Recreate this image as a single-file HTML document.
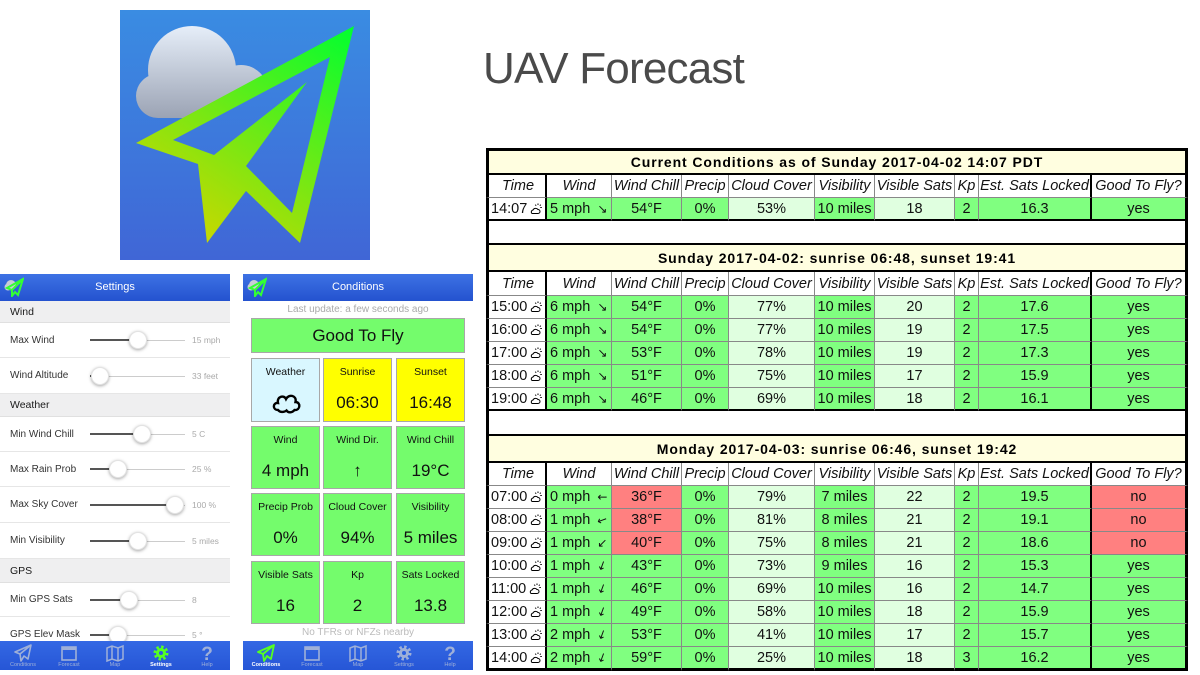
<!DOCTYPE html>
<html><head><meta charset="utf-8"><style>
*{margin:0;padding:0;box-sizing:border-box}
body{width:1200px;height:675px;background:#fff;position:relative;overflow:hidden;font-family:"Liberation Sans",Arial,sans-serif}
.abs{position:absolute}
.ttl{position:absolute;left:483px;top:47px;font-size:44px;line-height:44px;color:#4a4a4a;letter-spacing:-0.8px;white-space:nowrap}
/* table */
.tbl{position:absolute;left:486px;top:148px;width:702px;display:grid;
grid-template-columns:61px 65px 70px 47px 86px 60px 80px 24px 113px 96px;
grid-template-rows:27px 23px 23px 24px 27px 24px 23px 23px 23px 23px 23px 25px 27px 23px 23px 23px 23px 23px 23px 23px 23px 24px}
.tbl>div{border-right:1px solid #888;border-bottom:1px solid #888;display:flex;align-items:center;justify-content:center;font-size:14.5px;white-space:nowrap;overflow:hidden;color:#111}
.tbl>div.c1{border-left:3px solid #000;border-right:2px solid #000;justify-content:flex-start;padding-left:2px;background:#fff}
.tbl>div.c9{border-right:2px solid #000}
.tbl>div.c10{border-right:3px solid #000}
.tbl>div.t{grid-column:1/-1;border-left:3px solid #000;border-right:3px solid #000;border-bottom:2px solid #000;background:#fffee0;font-weight:bold;font-size:14px;letter-spacing:.9px;color:#000}
.tbl>div.t1{border-top:3px solid #000}
.tbl>div.b{grid-column:1/-1;border-left:3px solid #000;border-right:3px solid #000;border-bottom:2px solid #000;background:#fff}
.tbl>div.h{font-style:italic;background:#fff}
.tbl>div.lb{border-bottom:2px solid #000}
.tbl>div.fb{border-bottom:3px solid #000}
.g{background:#80ff80}.l{background:#e0ffe0}.r{background:#ff8080}
.tbl>div.w{justify-content:flex-start;padding-left:3px}
.a{font-style:normal;margin-left:7px;font-size:12px;display:inline-block;font-family:"DejaVu Sans",sans-serif}
.ic{margin-left:3px;flex:none}
/* phones */
.hdr{position:absolute;height:27px;background:linear-gradient(#3d72e4,#2452cf);color:#fff;font-size:11px;text-align:center;line-height:27px}
.sec{position:absolute;left:0;width:230px;background:#efeff0;font-size:10.5px;color:#1a1a1a;padding-left:10px;border-bottom:1px solid #e0e0e0}
.row{position:absolute;left:0;width:230px;border-bottom:1px solid #e6e6e6;font-size:10px;color:#333;padding-left:10px;background:#fff}
.sl{position:absolute;left:90px;height:2px;background:#555}
.sr{position:absolute;height:1px;background:#ccc}
.kn{position:absolute;width:18px;height:18px;border-radius:50%;background:#fff;box-shadow:0 1px 3px rgba(0,0,0,.35);border:1px solid #e3e3e3}
.v{position:absolute;left:192px;font-size:8.5px;color:#aaa}
.tab{position:absolute;top:641px;width:230px;height:29px;background:linear-gradient(#3468e4,#2656d6)}
.ti{position:absolute;top:0;width:46px;height:29px;text-align:center}
.ti svg{position:absolute;left:13px;top:3px}
.ti span{position:absolute;left:0;right:0;top:21px;font-size:5.5px;color:#9fb0d8;line-height:7px}
.ti span.on{color:#fff;font-weight:bold}
.bx{position:absolute;border:1px solid #a8a8a8;text-align:center;color:#111}
.bx .lb{position:absolute;top:6px;left:0;right:0;font-size:10.5px;line-height:14px}
.bx .vl{position:absolute;top:34px;left:0;right:0;font-size:17px;line-height:20px}
.gr{background:#74fc6c}.ye{background:#ffff00}.cy{background:#d9f7ff}
</style></head><body>

<!-- App icon -->
<svg class="abs" style="left:120px;top:10px" width="250" height="250" viewBox="120 10 250 250">
<defs>
<linearGradient id="bg" gradientUnits="userSpaceOnUse" x1="0" y1="10" x2="0" y2="260"><stop offset="0" stop-color="#3a8ce2"/><stop offset="1" stop-color="#4066d6"/></linearGradient>
<linearGradient id="cl" gradientUnits="userSpaceOnUse" x1="0" y1="26" x2="0" y2="118"><stop offset="0" stop-color="#e6eef9"/><stop offset="1" stop-color="#9ba3b4"/></linearGradient>
<linearGradient id="pl" gradientUnits="userSpaceOnUse" x1="354" y1="26" x2="207" y2="243"><stop offset="0" stop-color="#00ff30"/><stop offset="1" stop-color="#c8d800"/></linearGradient>
</defs>
<rect x="120" y="10" width="250" height="250" fill="url(#bg)"/>
<g fill="url(#cl)">
<circle cx="192" cy="70" r="44"/>
<circle cx="158" cy="96" r="22"/>
<circle cx="241" cy="92" r="27"/>
<rect x="158" y="80" width="83" height="38"/>
</g>
<path d="M354 26 L136 143 L198 164 L207 243 L246 191 L300 243 Z" fill="url(#pl)"/>
<path d="M330 57 L173 140 L214 155 L307 82 L246 166 L292 213 Z" fill="url(#bg)"/>
</svg>

<div class="ttl">UAV Forecast</div>

<!-- Settings phone -->
<div class="hdr" style="left:0;top:274px;width:230px">Settings</div>
<svg class="abs" style="left:4px;top:277px" width="20" height="20"><circle cx="7" cy="8" r="5" fill="#c8ccd6"/><circle cx="4" cy="10" r="3.5" fill="#c8ccd6"/><path d="M19 2 L3 11 L8 13 L8 19 L11 15 L14 18 Z M19 2 L8 13" fill="none" stroke="#3f3" stroke-width="2"/></svg>

<div class="sec" style="top:301px;height:22px;line-height:22px">Wind</div>
<div class="row" style="top:323px;height:35px;line-height:35px">Max Wind
 <div class="sl" style="top:16px;width:48px"></div><div class="sr" style="top:17px;left:138px;width:47px"></div><div class="kn" style="left:129px;top:8px"></div><div class="v" style="top:0">15 mph</div></div>
<div class="row" style="top:358px;height:36px;line-height:36px">Wind Altitude
 <div class="sl" style="top:17px;width:10px"></div><div class="sr" style="top:18px;left:100px;width:85px"></div><div class="kn" style="left:91px;top:9px"></div><div class="v" style="top:0">33 feet</div></div>
<div class="sec" style="top:394px;height:23px;line-height:23px">Weather</div>
<div class="row" style="top:417px;height:35px;line-height:35px">Min Wind Chill
 <div class="sl" style="top:16px;width:52px"></div><div class="sr" style="top:17px;left:142px;width:43px"></div><div class="kn" style="left:133px;top:8px"></div><div class="v" style="top:0">5 C</div></div>
<div class="row" style="top:452px;height:35px;line-height:35px">Max Rain Prob
 <div class="sl" style="top:16px;width:28px"></div><div class="sr" style="top:17px;left:118px;width:67px"></div><div class="kn" style="left:109px;top:8px"></div><div class="v" style="top:0">25 %</div></div>
<div class="row" style="top:487px;height:36px;line-height:36px">Max Sky Cover
 <div class="sl" style="top:17px;width:85px"></div><div class="sr" style="top:18px;left:175px;width:10px"></div><div class="kn" style="left:166px;top:9px"></div><div class="v" style="top:0">100 %</div></div>
<div class="row" style="top:523px;height:36px;line-height:36px">Min Visibility
 <div class="sl" style="top:17px;width:48px"></div><div class="sr" style="top:18px;left:138px;width:47px"></div><div class="kn" style="left:129px;top:9px"></div><div class="v" style="top:0">5 miles</div></div>
<div class="sec" style="top:559px;height:24px;line-height:24px">GPS</div>
<div class="row" style="top:583px;height:34px;line-height:34px">Min GPS Sats
 <div class="sl" style="top:16px;width:39px"></div><div class="sr" style="top:17px;left:129px;width:56px"></div><div class="kn" style="left:120px;top:8px"></div><div class="v" style="top:0">8</div></div>
<div class="row" style="top:617px;height:36px;line-height:36px">GPS Elev Mask
 <div class="sl" style="top:17px;width:28px"></div><div class="sr" style="top:18px;left:118px;width:67px"></div><div class="kn" style="left:109px;top:9px"></div><div class="v" style="top:0">5 °</div></div>

<div class="tab" style="left:0">
 <div class="ti" style="left:0"><svg width="20" height="18"><path d="M18 1 L2 8 L7 10 L8 17 L11 12 L15 15 Z M7 10 L18 1" fill="none" stroke="#9fb0d8" stroke-width="1.6" stroke-linejoin="round"/></svg><span>Conditions</span></div>
 <div class="ti" style="left:46px"><svg width="20" height="18"><rect x="3" y="3" width="14" height="13" fill="none" stroke="#9fb0d8" stroke-width="1.6"/><rect x="3" y="3" width="14" height="3" fill="#9fb0d8"/></svg><span>Forecast</span></div>
 <div class="ti" style="left:92px"><svg width="20" height="18"><path d="M2 4 L7 2 L13 4 L18 2 V15 L13 17 L7 15 L2 17 Z M7 2 V15 M13 4 V17" fill="none" stroke="#9fb0d8" stroke-width="1.5"/></svg><span>Map</span></div>
 <div class="ti" style="left:138px"><svg width="20" height="18"><circle cx="10" cy="9" r="6" fill="none" stroke="#55ff22" stroke-width="3" stroke-dasharray="2.4 2.3"/><circle cx="10" cy="9" r="5" fill="#55ff22"/><circle cx="10" cy="9" r="2" fill="#2c5edd"/></svg><span class="on">Settings</span></div>
 <div class="ti" style="left:184px"><svg width="20" height="18"><text x="10" y="16" text-anchor="middle" font-size="19" font-weight="bold" fill="#9fb0d8" font-family="Liberation Sans">?</text></svg><span>Help</span></div>
</div>

<!-- Conditions phone -->
<div class="hdr" style="left:243px;top:274px;width:230px">Conditions</div>
<svg class="abs" style="left:247px;top:277px" width="20" height="20"><circle cx="7" cy="8" r="5" fill="#c8ccd6"/><circle cx="4" cy="10" r="3.5" fill="#c8ccd6"/><path d="M19 2 L3 11 L8 13 L8 19 L11 15 L14 18 Z M19 2 L8 13" fill="none" stroke="#3f3" stroke-width="2"/></svg>
<div class="abs" style="left:243px;top:303px;width:230px;text-align:center;font-size:10px;line-height:14px;color:#aaa">Last update: a few seconds ago</div>
<div class="bx gr" style="left:251px;top:318px;width:214px;height:35px;font-size:17px;line-height:33px">Good To Fly</div>

<div class="bx cy" style="left:251px;top:358px;width:69px;height:64px"><div class="lb">Weather</div>
 <svg class="abs" style="left:19px;top:31px" width="31" height="24"><path d="M7 20 C1.5 20 1.5 12.5 7 13 C5.5 6.5 13 4.5 15 9 C18 3.5 26 5.5 24.5 12 C30 12 29.5 20.5 23.5 20 C21 23 17 23 15.5 20.5 C13 22.5 9 22.5 7 20 Z" fill="none" stroke="#000" stroke-width="2.4"/></svg></div>
<div class="bx ye" style="left:323px;top:358px;width:69px;height:64px"><div class="lb">Sunrise</div><div class="vl">06:30</div></div>
<div class="bx ye" style="left:396px;top:358px;width:69px;height:64px"><div class="lb">Sunset</div><div class="vl">16:48</div></div>

<div class="bx gr" style="left:251px;top:426px;width:69px;height:63px"><div class="lb">Wind</div><div class="vl">4 mph</div></div>
<div class="bx gr" style="left:323px;top:426px;width:69px;height:63px"><div class="lb">Wind Dir.</div><div class="vl">↑</div></div>
<div class="bx gr" style="left:396px;top:426px;width:69px;height:63px"><div class="lb">Wind Chill</div><div class="vl">19°C</div></div>

<div class="bx gr" style="left:251px;top:493px;width:69px;height:63px"><div class="lb">Precip Prob</div><div class="vl">0%</div></div>
<div class="bx gr" style="left:323px;top:493px;width:69px;height:63px"><div class="lb">Cloud Cover</div><div class="vl">94%</div></div>
<div class="bx gr" style="left:396px;top:493px;width:69px;height:63px"><div class="lb">Visibility</div><div class="vl">5 miles</div></div>

<div class="bx gr" style="left:251px;top:561px;width:69px;height:63px"><div class="lb">Visible Sats</div><div class="vl">16</div></div>
<div class="bx gr" style="left:323px;top:561px;width:69px;height:63px"><div class="lb">Kp</div><div class="vl">2</div></div>
<div class="bx gr" style="left:396px;top:561px;width:69px;height:63px"><div class="lb">Sats Locked</div><div class="vl">13.8</div></div>

<div class="abs" style="left:243px;top:626px;width:230px;text-align:center;font-size:10px;line-height:14px;color:#bbb">No TFRs or NFZs nearby</div>

<div class="tab" style="left:243px">
 <div class="ti" style="left:0"><svg width="20" height="18"><path d="M18 1 L2 8 L7 10 L8 17 L11 12 L15 15 Z M7 10 L18 1" fill="none" stroke="#55ff22" stroke-width="1.8" stroke-linejoin="round"/></svg><span class="on">Conditions</span></div>
 <div class="ti" style="left:46px"><svg width="20" height="18"><rect x="3" y="3" width="14" height="13" fill="none" stroke="#9fb0d8" stroke-width="1.6"/><rect x="3" y="3" width="14" height="3" fill="#9fb0d8"/></svg><span>Forecast</span></div>
 <div class="ti" style="left:92px"><svg width="20" height="18"><path d="M2 4 L7 2 L13 4 L18 2 V15 L13 17 L7 15 L2 17 Z M7 2 V15 M13 4 V17" fill="none" stroke="#9fb0d8" stroke-width="1.5"/></svg><span>Map</span></div>
 <div class="ti" style="left:138px"><svg width="20" height="18"><circle cx="10" cy="9" r="6" fill="none" stroke="#9fb0d8" stroke-width="3" stroke-dasharray="2.4 2.3"/><circle cx="10" cy="9" r="5" fill="#9fb0d8"/><circle cx="10" cy="9" r="2" fill="#2c5edd"/></svg><span>Settings</span></div>
 <div class="ti" style="left:184px"><svg width="20" height="18"><text x="10" y="16" text-anchor="middle" font-size="19" font-weight="bold" fill="#9fb0d8" font-family="Liberation Sans">?</text></svg><span>Help</span></div>
</div>

<!-- Table -->
<div class="tbl">
<div class="t t1">Current Conditions as of Sunday 2017-04-02 14:07 PDT</div>
<div class="h c1" style="justify-content:center">Time</div><div class="h">Wind</div><div class="h">Wind Chill</div><div class="h">Precip</div><div class="h">Cloud Cover</div><div class="h">Visibility</div><div class="h">Visible Sats</div><div class="h">Kp</div><div class="h c9">Est. Sats Locked</div><div class="h c10">Good To Fly?</div>
<div class="c1 lb">14:07<svg class="ic" width="12" height="12" viewBox="0 0 12 12"><path d="M2 10.5 h6 a2 2 0 0 0 0-4 a3 3 0 0 0 -5 .5 a2 2 0 0 0 -1 3.5z" fill="none" stroke="#000"/><path d="M8 .5v1.5M10.8 1.7l-1 1M11.8 4.5h-1.5M5.2 1.7l1 1" stroke="#000"/></svg></div><div class="g w lb">5 mph<i class="a">↘</i></div><div class="g lb">54°F</div><div class="g lb">0%</div><div class="l lb">53%</div><div class="g lb">10 miles</div><div class="l lb">18</div><div class="g lb">2</div><div class="g c9 lb">16.3</div><div class="g c10 lb">yes</div>
<div class="b"></div>

<div class="t">Sunday 2017-04-02: sunrise 06:48, sunset 19:41</div>
<div class="h c1" style="justify-content:center">Time</div><div class="h">Wind</div><div class="h">Wind Chill</div><div class="h">Precip</div><div class="h">Cloud Cover</div><div class="h">Visibility</div><div class="h">Visible Sats</div><div class="h">Kp</div><div class="h c9">Est. Sats Locked</div><div class="h c10">Good To Fly?</div>

<div class="c1">15:00<svg class="ic" width="12" height="12" viewBox="0 0 12 12"><path d="M2 10.5 h6 a2 2 0 0 0 0-4 a3 3 0 0 0 -5 .5 a2 2 0 0 0 -1 3.5z" fill="none" stroke="#000"/><path d="M8 .5v1.5M10.8 1.7l-1 1M11.8 4.5h-1.5M5.2 1.7l1 1" stroke="#000"/></svg></div><div class="g w">6 mph<i class="a">↘</i></div><div class="g">54°F</div><div class="g">0%</div><div class="l">77%</div><div class="g">10 miles</div><div class="l">20</div><div class="g">2</div><div class="g c9">17.6</div><div class="g c10">yes</div>
<div class="c1">16:00<svg class="ic" width="12" height="12" viewBox="0 0 12 12"><path d="M2 10.5 h6 a2 2 0 0 0 0-4 a3 3 0 0 0 -5 .5 a2 2 0 0 0 -1 3.5z" fill="none" stroke="#000"/><path d="M8 .5v1.5M10.8 1.7l-1 1M11.8 4.5h-1.5M5.2 1.7l1 1" stroke="#000"/></svg></div><div class="g w">6 mph<i class="a">↘</i></div><div class="g">54°F</div><div class="g">0%</div><div class="l">77%</div><div class="g">10 miles</div><div class="l">19</div><div class="g">2</div><div class="g c9">17.5</div><div class="g c10">yes</div>
<div class="c1">17:00<svg class="ic" width="12" height="12" viewBox="0 0 12 12"><path d="M2 10.5 h6 a2 2 0 0 0 0-4 a3 3 0 0 0 -5 .5 a2 2 0 0 0 -1 3.5z" fill="none" stroke="#000"/><path d="M8 .5v1.5M10.8 1.7l-1 1M11.8 4.5h-1.5M5.2 1.7l1 1" stroke="#000"/></svg></div><div class="g w">6 mph<i class="a">↘</i></div><div class="g">53°F</div><div class="g">0%</div><div class="l">78%</div><div class="g">10 miles</div><div class="l">19</div><div class="g">2</div><div class="g c9">17.3</div><div class="g c10">yes</div>
<div class="c1">18:00<svg class="ic" width="12" height="12" viewBox="0 0 12 12"><path d="M2 10.5 h6 a2 2 0 0 0 0-4 a3 3 0 0 0 -5 .5 a2 2 0 0 0 -1 3.5z" fill="none" stroke="#000"/><path d="M8 .5v1.5M10.8 1.7l-1 1M11.8 4.5h-1.5M5.2 1.7l1 1" stroke="#000"/></svg></div><div class="g w">6 mph<i class="a">↘</i></div><div class="g">51°F</div><div class="g">0%</div><div class="l">75%</div><div class="g">10 miles</div><div class="l">17</div><div class="g">2</div><div class="g c9">15.9</div><div class="g c10">yes</div>
<div class="c1 lb">19:00<svg class="ic" width="12" height="12" viewBox="0 0 12 12"><path d="M2 10.5 h6 a2 2 0 0 0 0-4 a3 3 0 0 0 -5 .5 a2 2 0 0 0 -1 3.5z" fill="none" stroke="#000"/><path d="M8 .5v1.5M10.8 1.7l-1 1M11.8 4.5h-1.5M5.2 1.7l1 1" stroke="#000"/></svg></div><div class="g w lb">6 mph<i class="a">↘</i></div><div class="g lb">46°F</div><div class="g lb">0%</div><div class="l lb">69%</div><div class="g lb">10 miles</div><div class="l lb">18</div><div class="g lb">2</div><div class="g c9 lb">16.1</div><div class="g c10 lb">yes</div>
<div class="b"></div>

<div class="t">Monday 2017-04-03: sunrise 06:46, sunset 19:42</div>
<div class="h c1" style="justify-content:center">Time</div><div class="h">Wind</div><div class="h">Wind Chill</div><div class="h">Precip</div><div class="h">Cloud Cover</div><div class="h">Visibility</div><div class="h">Visible Sats</div><div class="h">Kp</div><div class="h c9">Est. Sats Locked</div><div class="h c10">Good To Fly?</div>

<div class="c1">07:00<svg class="ic" width="12" height="12" viewBox="0 0 12 12"><path d="M2 10.5 h6 a2 2 0 0 0 0-4 a3 3 0 0 0 -5 .5 a2 2 0 0 0 -1 3.5z" fill="none" stroke="#000"/><path d="M8 .5v1.5M10.8 1.7l-1 1M11.8 4.5h-1.5M5.2 1.7l1 1" stroke="#000"/></svg></div><div class="g w">0 mph<i class="a">←</i></div><div class="r">36°F</div><div class="g">0%</div><div class="l">79%</div><div class="g">7 miles</div><div class="l">22</div><div class="g">2</div><div class="g c9">19.5</div><div class="r c10">no</div>
<div class="c1">08:00<svg class="ic" width="12" height="12" viewBox="0 0 12 12"><path d="M2 10.5 h6 a2 2 0 0 0 0-4 a3 3 0 0 0 -5 .5 a2 2 0 0 0 -1 3.5z" fill="none" stroke="#000"/><path d="M8 .5v1.5M10.8 1.7l-1 1M11.8 4.5h-1.5M5.2 1.7l1 1" stroke="#000"/></svg></div><div class="g w">1 mph<i class="a" style="transform:rotate(-20deg)">←</i></div><div class="r">38°F</div><div class="g">0%</div><div class="l">81%</div><div class="g">8 miles</div><div class="l">21</div><div class="g">2</div><div class="g c9">19.1</div><div class="r c10">no</div>
<div class="c1">09:00<svg class="ic" width="12" height="12" viewBox="0 0 12 12"><path d="M2 10.5 h6 a2 2 0 0 0 0-4 a3 3 0 0 0 -5 .5 a2 2 0 0 0 -1 3.5z" fill="none" stroke="#000"/><path d="M8 .5v1.5M10.8 1.7l-1 1M11.8 4.5h-1.5M5.2 1.7l1 1" stroke="#000"/></svg></div><div class="g w">1 mph<i class="a">↙</i></div><div class="r">40°F</div><div class="g">0%</div><div class="l">75%</div><div class="g">8 miles</div><div class="l">21</div><div class="g">2</div><div class="g c9">18.6</div><div class="r c10">no</div>
<div class="c1">10:00<svg class="ic" width="12" height="12" viewBox="0 0 12 12"><path d="M2 10.5 h6 a2 2 0 0 0 0-4 a3 3 0 0 0 -5 .5 a2 2 0 0 0 -1 3.5z" fill="none" stroke="#000"/><path d="M8 .5v1.5M10.8 1.7l-1 1M11.8 4.5h-1.5M5.2 1.7l1 1" stroke="#000"/></svg></div><div class="g w">1 mph<i class="a" style="transform:rotate(20deg)">↓</i></div><div class="g">43°F</div><div class="g">0%</div><div class="l">73%</div><div class="g">9 miles</div><div class="l">16</div><div class="g">2</div><div class="g c9">15.3</div><div class="g c10">yes</div>
<div class="c1">11:00<svg class="ic" width="12" height="12" viewBox="0 0 12 12"><path d="M2 10.5 h6 a2 2 0 0 0 0-4 a3 3 0 0 0 -5 .5 a2 2 0 0 0 -1 3.5z" fill="none" stroke="#000"/><path d="M8 .5v1.5M10.8 1.7l-1 1M11.8 4.5h-1.5M5.2 1.7l1 1" stroke="#000"/></svg></div><div class="g w">1 mph<i class="a" style="transform:rotate(20deg)">↓</i></div><div class="g">46°F</div><div class="g">0%</div><div class="l">69%</div><div class="g">10 miles</div><div class="l">16</div><div class="g">2</div><div class="g c9">14.7</div><div class="g c10">yes</div>
<div class="c1">12:00<svg class="ic" width="12" height="12" viewBox="0 0 12 12"><path d="M2 10.5 h6 a2 2 0 0 0 0-4 a3 3 0 0 0 -5 .5 a2 2 0 0 0 -1 3.5z" fill="none" stroke="#000"/><path d="M8 .5v1.5M10.8 1.7l-1 1M11.8 4.5h-1.5M5.2 1.7l1 1" stroke="#000"/></svg></div><div class="g w">1 mph<i class="a" style="transform:rotate(20deg)">↓</i></div><div class="g">49°F</div><div class="g">0%</div><div class="l">58%</div><div class="g">10 miles</div><div class="l">18</div><div class="g">2</div><div class="g c9">15.9</div><div class="g c10">yes</div>
<div class="c1">13:00<svg class="ic" width="12" height="12" viewBox="0 0 12 12"><path d="M2 10.5 h6 a2 2 0 0 0 0-4 a3 3 0 0 0 -5 .5 a2 2 0 0 0 -1 3.5z" fill="none" stroke="#000"/><path d="M8 .5v1.5M10.8 1.7l-1 1M11.8 4.5h-1.5M5.2 1.7l1 1" stroke="#000"/></svg></div><div class="g w">2 mph<i class="a" style="transform:rotate(20deg)">↓</i></div><div class="g">53°F</div><div class="g">0%</div><div class="l">41%</div><div class="g">10 miles</div><div class="l">17</div><div class="g">2</div><div class="g c9">15.7</div><div class="g c10">yes</div>
<div class="c1 fb">14:00<svg class="ic" width="12" height="12" viewBox="0 0 12 12"><path d="M2 10.5 h6 a2 2 0 0 0 0-4 a3 3 0 0 0 -5 .5 a2 2 0 0 0 -1 3.5z" fill="none" stroke="#000"/><path d="M8 .5v1.5M10.8 1.7l-1 1M11.8 4.5h-1.5M5.2 1.7l1 1" stroke="#000"/></svg></div><div class="g w fb">2 mph<i class="a" style="transform:rotate(20deg)">↓</i></div><div class="g fb">59°F</div><div class="g fb">0%</div><div class="l fb">25%</div><div class="g fb">10 miles</div><div class="l fb">18</div><div class="g fb">3</div><div class="g c9 fb">16.2</div><div class="g c10 fb">yes</div>
</div>

</body></html>
